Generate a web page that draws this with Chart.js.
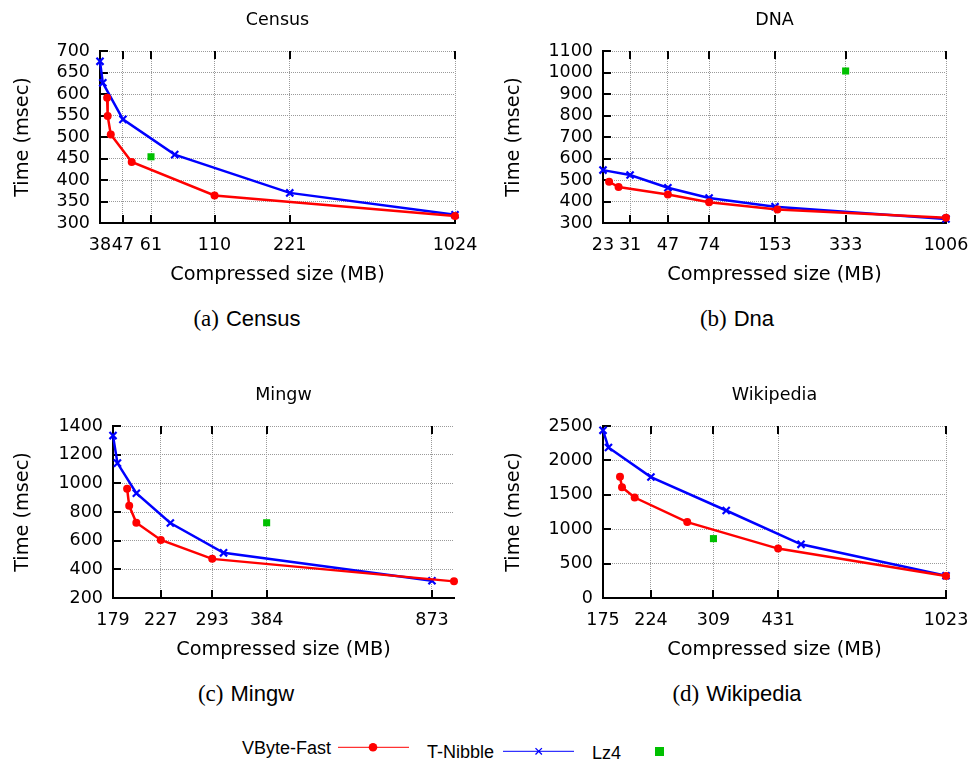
<!DOCTYPE html>
<html>
<head>
<meta charset="utf-8">
<script src="https://cdn.jsdelivr.net/npm/chart.js@4.4.0/dist/chart.umd.min.js"></script>
<style>
body { margin: 0; background: #fff; }
#page { position: relative; width: 968px; height: 761px; overflow: hidden; }
canvas { position: absolute; }
.cap { position: absolute; width: 240px; text-align: center; font: 22px 'Liberation Sans', Arial, sans-serif; line-height: 26px; color: #000; white-space: nowrap; }
.cap .lbl { font-family: 'Liberation Serif', 'DejaVu Serif', serif; font-size: 23px; margin-right: 7px; }
.leg { position: absolute; font: 18px 'Liberation Sans', Arial, sans-serif; line-height: 22px; color: #000; white-space: nowrap; }
#legsym { position: absolute; left: 0; top: 730px; }
</style>
</head>
<body>
<div id="page">
  <canvas id="census" width="484" height="300" style="left:0;top:0"></canvas>
  <canvas id="dna" width="484" height="300" style="left:484px;top:0"></canvas>
  <canvas id="mingw" width="484" height="300" style="left:0;top:375px"></canvas>
  <canvas id="wiki" width="484" height="300" style="left:484px;top:375px"></canvas>

  <div class="cap" style="left:127px;top:306px"><span class="lbl">(a)</span>Census</div>
  <div class="cap" style="left:617px;top:306px"><span class="lbl">(b)</span>Dna</div>
  <div class="cap" style="left:126px;top:681px"><span class="lbl">(c)</span>Mingw</div>
  <div class="cap" style="left:617px;top:681px"><span class="lbl">(d)</span>Wikipedia</div>

  <div class="leg" style="left:242px;top:737px">VByte-Fast</div>
  <div class="leg" style="left:427px;top:741px">T-Nibble</div>
  <div class="leg" style="left:592px;top:742px">Lz4</div>
  <svg id="legsym" width="968" height="31">
    <line x1="338" y1="17.3" x2="409" y2="17.3" stroke="#ff0000" stroke-width="1"/>
    <circle cx="373" cy="17.3" r="4.3" fill="#ff0000"/>
    <line x1="503" y1="21.3" x2="574" y2="21.3" stroke="#0000ff" stroke-width="1"/>
    <path d="M535.5 18.1 L541.9 24.5 M541.9 18.1 L535.5 24.5" stroke="#0000ff" stroke-width="1.3"/>
    <rect x="655" y="17" width="9" height="9" fill="#00c000"/>
  </svg>
</div>

<script>
// Census
const censusTicks = [38, 47, 61, 110, 221, 1024];
const censusVbyteSize = [40.6, 40.8, 42, 51, 110, 1024];
const censusVbyteTime = [591, 549, 506, 442, 364, 316];
const censusNibbleSize = [38, 39, 47, 76, 221, 1024];
const censusNibbleTime = [676, 626, 541, 459, 370, 319];
const censusLz4Size = [61];
const censusLz4Time = [454];

// DNA
const dnaTicks = [23, 31, 47, 74, 153, 333, 1006];
const dnaVbyteSize = [24.6, 27.3, 47, 74, 157, 1006];
const dnaVbyteTime = [492, 467, 433, 397, 363, 324];
const dnaNibbleSize = [23, 31, 47, 74, 153, 1006];
const dnaNibbleTime = [546, 523, 464, 416, 376, 319];
const dnaLz4Size = [333];
const dnaLz4Time = [1007];

// Mingw
const mingwTicks = [179, 227, 293, 384, 873];
const mingwVbyteSize = [192, 194, 201, 227, 293, 974];
const mingwVbyteTime = [963, 843, 725, 605, 473, 316];
const mingwNibbleSize = [179, 183, 201, 238, 310, 873];
const mingwNibbleTime = [1333, 1141, 931, 723, 515, 320];
const mingwLz4Size = [384];
const mingwLz4Time = [725];

// Wikipedia
const wikiTicks = [175, 224, 309, 431, 1023];
const wikiVbyteSize = [191, 193, 206, 270, 431, 1023];
const wikiVbyteTime = [1763, 1609, 1460, 1103, 718, 320];
const wikiNibbleSize = [175, 180, 224, 330, 485, 1023];
const wikiNibbleTime = [2437, 2187, 1758, 1272, 780, 323];
const wikiLz4Size = [309];
const wikiLz4Time = [863];

const FONT = "'DejaVu Sans', Verdana, sans-serif";
Chart.defaults.color = '#000';
Chart.defaults.font.family = FONT;
Chart.defaults.font.size = 17.5;

function pts(xs, ys) {
    return xs.map((x, i) => ({x: x, y: ys[i]}));
}

// gnuplot style tick marks inside the frame
const innerTicks = {
    id: 'innerTicks',
    beforeDatasetsDraw(chart) {
        const {ctx, chartArea: a, scales: {x, y}} = chart;
        ctx.save();
        ctx.strokeStyle = '#000';
        ctx.lineWidth = 2;
        ctx.beginPath();
        x.ticks.forEach(t => {
            const px = Math.round(x.getPixelForValue(t.value));
            ctx.moveTo(px, a.bottom); ctx.lineTo(px, a.bottom - 8);
            ctx.moveTo(px, a.top); ctx.lineTo(px, a.top + 8);
        });
        y.ticks.forEach(t => {
            const py = Math.round(y.getPixelForValue(t.value));
            ctx.moveTo(a.left, py); ctx.lineTo(a.left + 8, py);
        });
        ctx.stroke();
        ctx.restore();
    }
};

function makePanel(id, opt) {
    const ctx = document.getElementById(id).getContext('2d');
    return new Chart(ctx, {
        type: 'line',
        data: {
            datasets: [{
                label: 'VByte-Fast',
                data: pts(opt.vbX, opt.vbY),
                borderColor: '#ff0000',
                backgroundColor: '#ff0000',
                borderWidth: 2.5,
                pointStyle: 'circle',
                pointRadius: 4,
                pointBorderWidth: 0,
                tension: 0,
                clip: false
            }, {
                label: 'T-Nibble',
                data: pts(opt.tnX, opt.tnY),
                borderColor: '#0000ff',
                backgroundColor: '#0000ff',
                borderWidth: 2.5,
                pointStyle: 'crossRot',
                pointRadius: 5,
                pointBorderWidth: 2.2,
                tension: 0,
                clip: false
            }, {
                label: 'Lz4',
                data: pts(opt.lzX, opt.lzY),
                showLine: false,
                borderColor: '#00c000',
                backgroundColor: '#00c000',
                pointStyle: 'rect',
                pointRadius: 5,
                pointBorderWidth: 0,
                clip: false
            }]
        },
        options: {
            responsive: false,
            animation: false,
            layout: { padding: { left: 0, right: opt.rightPad, top: 0, bottom: 0 } },
            plugins: {
                legend: { display: false },
                tooltip: { enabled: false },
                title: {
                    display: true,
                    text: opt.title,
                    fullSize: false,
                    font: { size: 17.5, weight: 'normal' },
                    padding: { top: 10, bottom: 20 }
                }
            },
            scales: {
                x: {
                    type: 'logarithmic',
                    min: opt.xMin,
                    max: opt.xMax,
                    afterBuildTicks: function(axis) {
                        axis.ticks = opt.ticks.map(v => ({value: v}));
                    },
                    afterFit: function(axis) {
                        axis.height = 77;
                        axis.paddingLeft = 0;
                        axis.paddingRight = 0;
                    },
                    ticks: {
                        autoSkip: false,
                        maxRotation: 0,
                        minRotation: 0,
                        padding: 12,
                        callback: function(value) {
                            return String(value);
                        }
                    },
                    grid: { color: '#9a9a9a', lineWidth: 1, drawTicks: false },
                    border: { display: true, color: '#000', width: 2, dash: [1, 1] },
                    title: {
                        display: true,
                        text: 'Compressed size (MB)',
                        font: { size: 19.3 },
                        padding: { top: 0, bottom: 13.4 }
                    }
                },
                y: {
                    type: 'linear',
                    min: opt.yMin,
                    max: opt.yMax,
                    ticks: {
                        stepSize: opt.yStep,
                        autoSkip: false,
                        padding: 10,
                        callback: function(value) {
                            return String(value);
                        }
                    },
                    afterFit: function(axis) {
                        axis.width = opt.yWidth;
                        axis.paddingTop = 0;
                        axis.paddingBottom = 0;
                    },
                    grid: { color: '#9a9a9a', lineWidth: 1, drawTicks: false },
                    border: { display: true, color: '#000', width: 2, dash: [1, 1] },
                    title: {
                        display: true,
                        text: 'Time (msec)',
                        font: { size: 19.3 },
                        padding: { top: opt.yTitlePad, bottom: 0 }
                    }
                }
            }
        },
        plugins: [innerTicks]
    });
}

makePanel('census', {
    title: 'Census', ticks: censusTicks, xMin: 38, xMax: 1024,
    yMin: 300, yMax: 700, yStep: 50, yWidth: 100, rightPad: 29, yTitlePad: 11,
    vbX: censusVbyteSize, vbY: censusVbyteTime,
    tnX: censusNibbleSize, tnY: censusNibbleTime,
    lzX: censusLz4Size, lzY: censusLz4Time
});

makePanel('dna', {
    title: 'DNA', ticks: dnaTicks, xMin: 23, xMax: 1006,
    yMin: 300, yMax: 1100, yStep: 100, yWidth: 119, rightPad: 22, yTitlePad: 18.4,
    vbX: dnaVbyteSize, vbY: dnaVbyteTime,
    tnX: dnaNibbleSize, tnY: dnaNibbleTime,
    lzX: dnaLz4Size, lzY: dnaLz4Time
});

makePanel('mingw', {
    title: 'Mingw', ticks: mingwTicks, xMin: 179, xMax: 974,
    yMin: 200, yMax: 1400, yStep: 200, yWidth: 113, rightPad: 30, yTitlePad: 11,
    vbX: mingwVbyteSize, vbY: mingwVbyteTime,
    tnX: mingwNibbleSize, tnY: mingwNibbleTime,
    lzX: mingwLz4Size, lzY: mingwLz4Time
});

makePanel('wiki', {
    title: 'Wikipedia', ticks: wikiTicks, xMin: 175, xMax: 1023,
    yMin: 0, yMax: 2500, yStep: 500, yWidth: 119, rightPad: 22, yTitlePad: 18.4,
    vbX: wikiVbyteSize, vbY: wikiVbyteTime,
    tnX: wikiNibbleSize, tnY: wikiNibbleTime,
    lzX: wikiLz4Size, lzY: wikiLz4Time
});
</script>
</body>
</html>
